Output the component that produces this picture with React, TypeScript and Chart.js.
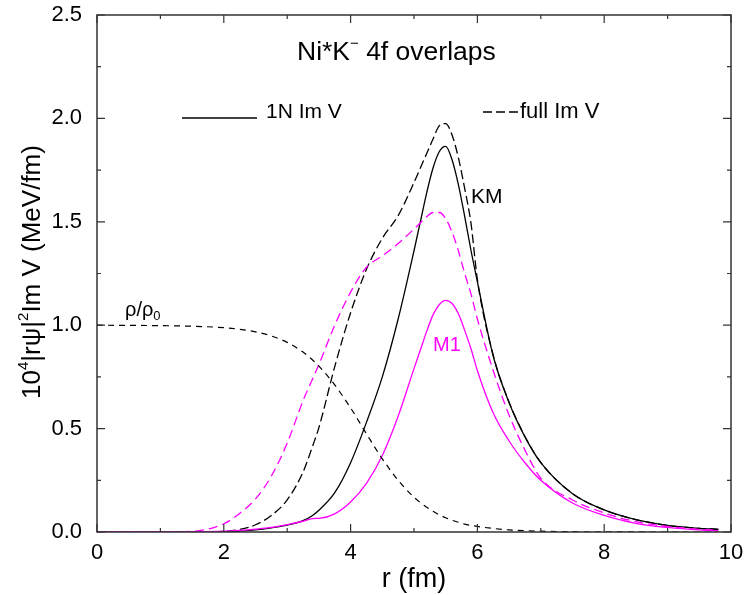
import React, { useEffect, useRef } from 'react';
import { Chart, registerables } from 'chart.js';

Chart.register(...registerables);

// radial grid (fm)
const r = [0, 0.5, 1, 1.5, 2, 2.25, 2.5, 2.75, 3, 3.25, 3.4, 3.5, 3.75, 4, 4.25, 4.5, 4.75, 5, 5.1, 5.2, 5.3, 5.4, 5.5, 5.6, 5.7, 5.8, 5.9, 6, 6.25, 6.5, 6.75, 7, 7.5, 8, 8.5, 9, 9.5, 9.8];

// KM, 1N Im V (black solid)
const kmOneN = [0, 0, 0, 0, 0.001, 0.004, 0.01, 0.02, 0.033, 0.055, 0.08, 0.105, 0.19, 0.335, 0.53, 0.75, 1.03, 1.36, 1.5, 1.64, 1.76, 1.84, 1.865, 1.8, 1.68, 1.525, 1.36, 1.21, 0.85, 0.625, 0.46, 0.335, 0.185, 0.107, 0.06, 0.032, 0.018, 0.013];
// KM, full Im V (black dashed)
const kmFull = [0, 0, 0, 0, 0.003, 0.012, 0.035, 0.08, 0.155, 0.29, 0.415, 0.505, 0.8, 1.06, 1.27, 1.42, 1.53, 1.69, 1.76, 1.83, 1.9, 1.965, 1.975, 1.92, 1.81, 1.66, 1.49, 1.22, 0.855, 0.628, 0.462, 0.336, 0.186, 0.107, 0.06, 0.032, 0.018, 0.013];
// M1, 1N Im V (magenta solid)
const m1OneN = [0, 0, 0, 0.001, 0.004, 0.008, 0.014, 0.022, 0.036, 0.052, 0.065, 0.066, 0.088, 0.145, 0.235, 0.37, 0.56, 0.79, 0.88, 0.97, 1.05, 1.1, 1.12, 1.105, 1.055, 0.975, 0.885, 0.78, 0.575, 0.44, 0.335, 0.25, 0.14, 0.08, 0.042, 0.022, 0.01, 0.006];
// M1, full Im V (magenta dashed)
const m1Full = [0, 0, 0, 0.003, 0.04, 0.09, 0.16, 0.27, 0.43, 0.635, 0.74, 0.81, 1.0, 1.16, 1.28, 1.335, 1.395, 1.465, 1.495, 1.525, 1.545, 1.545, 1.515, 1.45, 1.36, 1.25, 1.15, 1.03, 0.78, 0.565, 0.396, 0.26, 0.155, 0.092, 0.05, 0.027, 0.013, 0.009];
// rho / rho0 (black short dash)
const rhoRatio = [1.0, 0.999, 0.998, 0.995, 0.988, 0.98, 0.968, 0.948, 0.917, 0.87, 0.832, 0.802, 0.711, 0.6, 0.475, 0.354, 0.25, 0.168, 0.142, 0.12, 0.1, 0.083, 0.069, 0.057, 0.047, 0.038, 0.032, 0.027, 0.017, 0.01, 0.006, 0.004, 0.0014, 0.0005, 0.0002, 0, 0, 0];

const xMajor = [0, 2, 4, 6, 8, 10];
const xMinor = [1, 3, 5, 7, 9];
const yMajor = [0, 0.5, 1, 1.5, 2, 2.5];
const yMinor = [0.25, 0.75, 1.25, 1.75, 2.25];

const FONT = '"Liberation Sans", Arial, Helvetica, sans-serif';
const BLACK = '#000000';
const MAGENTA = '#ff00ff';
const FRAME = '#333333';

type Seg = { t: string; size: number; dy?: number };

function drawRich(ctx: CanvasRenderingContext2D, segs: Seg[], x: number, y: number, align: 'left' | 'center') {
  let total = 0;
  for (const s of segs) {
    ctx.font = `${s.size}px ${FONT}`;
    total += ctx.measureText(s.t).width;
  }
  let cx = align === 'center' ? x - total / 2 : x;
  ctx.textAlign = 'left';
  ctx.textBaseline = 'alphabetic';
  for (const s of segs) {
    ctx.font = `${s.size}px ${FONT}`;
    ctx.fillText(s.t, cx, y + (s.dy || 0));
    cx += ctx.measureText(s.t).width;
  }
}

const decor = {
  id: 'decor',
  afterDatasetsDraw(chart: any) {
    const { ctx, chartArea: a, scales } = chart;
    const xs = scales.x;
    const ys = scales.y;
    ctx.save();
    // frame
    ctx.strokeStyle = FRAME;
    ctx.lineWidth = 1.5;
    ctx.setLineDash([]);
    ctx.strokeRect(a.left, a.top, a.right - a.left, a.bottom - a.top);
    // inward ticks on all four sides
    ctx.lineWidth = 1.2;
    const xt = (v: number, len: number) => {
      const px = xs.getPixelForValue(v);
      ctx.beginPath();
      ctx.moveTo(px, a.bottom); ctx.lineTo(px, a.bottom - len);
      ctx.moveTo(px, a.top); ctx.lineTo(px, a.top + len);
      ctx.stroke();
    };
    const yt = (v: number, len: number) => {
      const py = ys.getPixelForValue(v);
      ctx.beginPath();
      ctx.moveTo(a.left, py); ctx.lineTo(a.left + len, py);
      ctx.moveTo(a.right, py); ctx.lineTo(a.right - len, py);
      ctx.stroke();
    };
    xMajor.forEach(v => xt(v, 8));
    xMinor.forEach(v => xt(v, 4));
    yMajor.forEach(v => yt(v, 8));
    yMinor.forEach(v => yt(v, 4));

    ctx.fillStyle = BLACK;
    // title
    drawRich(ctx, [
      { t: 'Ni*K', size: 26.5 },
      { t: '\u2212', size: 15, dy: -12 },
      { t: ' 4f overlaps', size: 26.5 },
    ], 297, 60, 'left');

    // legend
    ctx.strokeStyle = BLACK;
    ctx.lineWidth = 1.3;
    ctx.beginPath();
    ctx.moveTo(182, 118); ctx.lineTo(257, 118);
    ctx.stroke();
    drawRich(ctx, [{ t: '1N Im V', size: 21 }], 266, 118, 'left');
    ctx.setLineDash([9, 4]);
    ctx.beginPath();
    ctx.moveTo(483, 112); ctx.lineTo(518, 112);
    ctx.stroke();
    ctx.setLineDash([]);
    drawRich(ctx, [{ t: 'full Im V', size: 22 }], 520, 118, 'left');

    // curve labels
    drawRich(ctx, [{ t: 'KM', size: 21 }], 471, 203, 'left');
    ctx.fillStyle = MAGENTA;
    drawRich(ctx, [{ t: 'M1', size: 20 }], 433, 351, 'left');
    ctx.fillStyle = BLACK;
    drawRich(ctx, [
      { t: '\u03C1/\u03C1', size: 20 },
      { t: '0', size: 13, dy: 4 },
    ], 125, 316, 'left');

    // x axis title
    drawRich(ctx, [{ t: 'r (fm)', size: 27 }], 414, 587, 'center');

    // y axis title (rotated)
    ctx.save();
    ctx.translate(40, 272);
    ctx.rotate(-Math.PI / 2);
    drawRich(ctx, [
      { t: '10', size: 26 },
      { t: '4', size: 15, dy: -12 },
      { t: '|r\u03C8|', size: 26 },
      { t: '2', size: 15, dy: -12 },
      { t: 'Im V (MeV/fm)', size: 26 },
    ], 0, 0, 'center');
    ctx.restore();

    ctx.restore();
  },
};

function pts(ys: number[]) {
  return r.map((x, i) => ({ x, y: ys[i] }));
}

export default function App() {
  const ref = useRef<HTMLCanvasElement | null>(null);

  useEffect(() => {
    if (!ref.current) return;
    const chart = new Chart(ref.current, {
      type: 'line',
      data: {
        datasets: [
          { data: pts(rhoRatio), borderColor: BLACK, borderWidth: 1.2, borderDash: [6, 5] },
          { data: pts(m1OneN), borderColor: MAGENTA, borderWidth: 1.3 },
          { data: pts(m1Full), borderColor: MAGENTA, borderWidth: 1.3, borderDash: [9, 5] },
          { data: pts(kmOneN), borderColor: BLACK, borderWidth: 1.3 },
          { data: pts(kmFull), borderColor: BLACK, borderWidth: 1.3, borderDash: [9, 4] },
        ] as any,
      },
      options: {
        animation: false,
        responsive: false,
        maintainAspectRatio: false,
        layout: { padding: { top: 15, right: 15, left: 0, bottom: 0 } },
        plugins: {
          legend: { display: false },
          tooltip: { enabled: false },
          title: { display: false },
        },
        elements: {
          point: { radius: 0, hoverRadius: 0 },
          line: { tension: 0, cubicInterpolationMode: 'monotone', fill: false },
        },
        scales: {
          x: {
            type: 'linear',
            min: 0,
            max: 10,
            grid: { display: false, drawTicks: false },
            border: { display: false },
            ticks: {
              stepSize: 2,
              padding: 8,
              color: BLACK,
              maxRotation: 0,
              autoSkip: false,
              font: { family: FONT, size: 22 },
              callback: (v: any) => String(v),
            },
            afterFit: (s: any) => {
              s.height = 63;
              s.paddingLeft = 0; s.paddingRight = 0; s.paddingTop = 0; s.paddingBottom = 0;
            },
          },
          y: {
            type: 'linear',
            min: 0,
            max: 2.5,
            grid: { display: false, drawTicks: false },
            border: { display: false },
            ticks: {
              stepSize: 0.5,
              padding: 15,
              color: BLACK,
              font: { family: FONT, size: 22 },
              callback: (v: any) => Number(v).toFixed(1),
            },
            afterFit: (s: any) => {
              s.width = 97;
              s.paddingLeft = 0; s.paddingRight = 0; s.paddingTop = 0; s.paddingBottom = 0;
            },
          },
        },
      } as any,
      plugins: [decor],
    });
    return () => chart.destroy();
  }, []);

  return (
    <div style={{ position: 'absolute', left: 0, top: 0, width: 746, height: 595, background: '#fff' }}>
      <canvas ref={ref} width={746} height={595} style={{ width: 746, height: 595, display: 'block' }} />
    </div>
  );
}
